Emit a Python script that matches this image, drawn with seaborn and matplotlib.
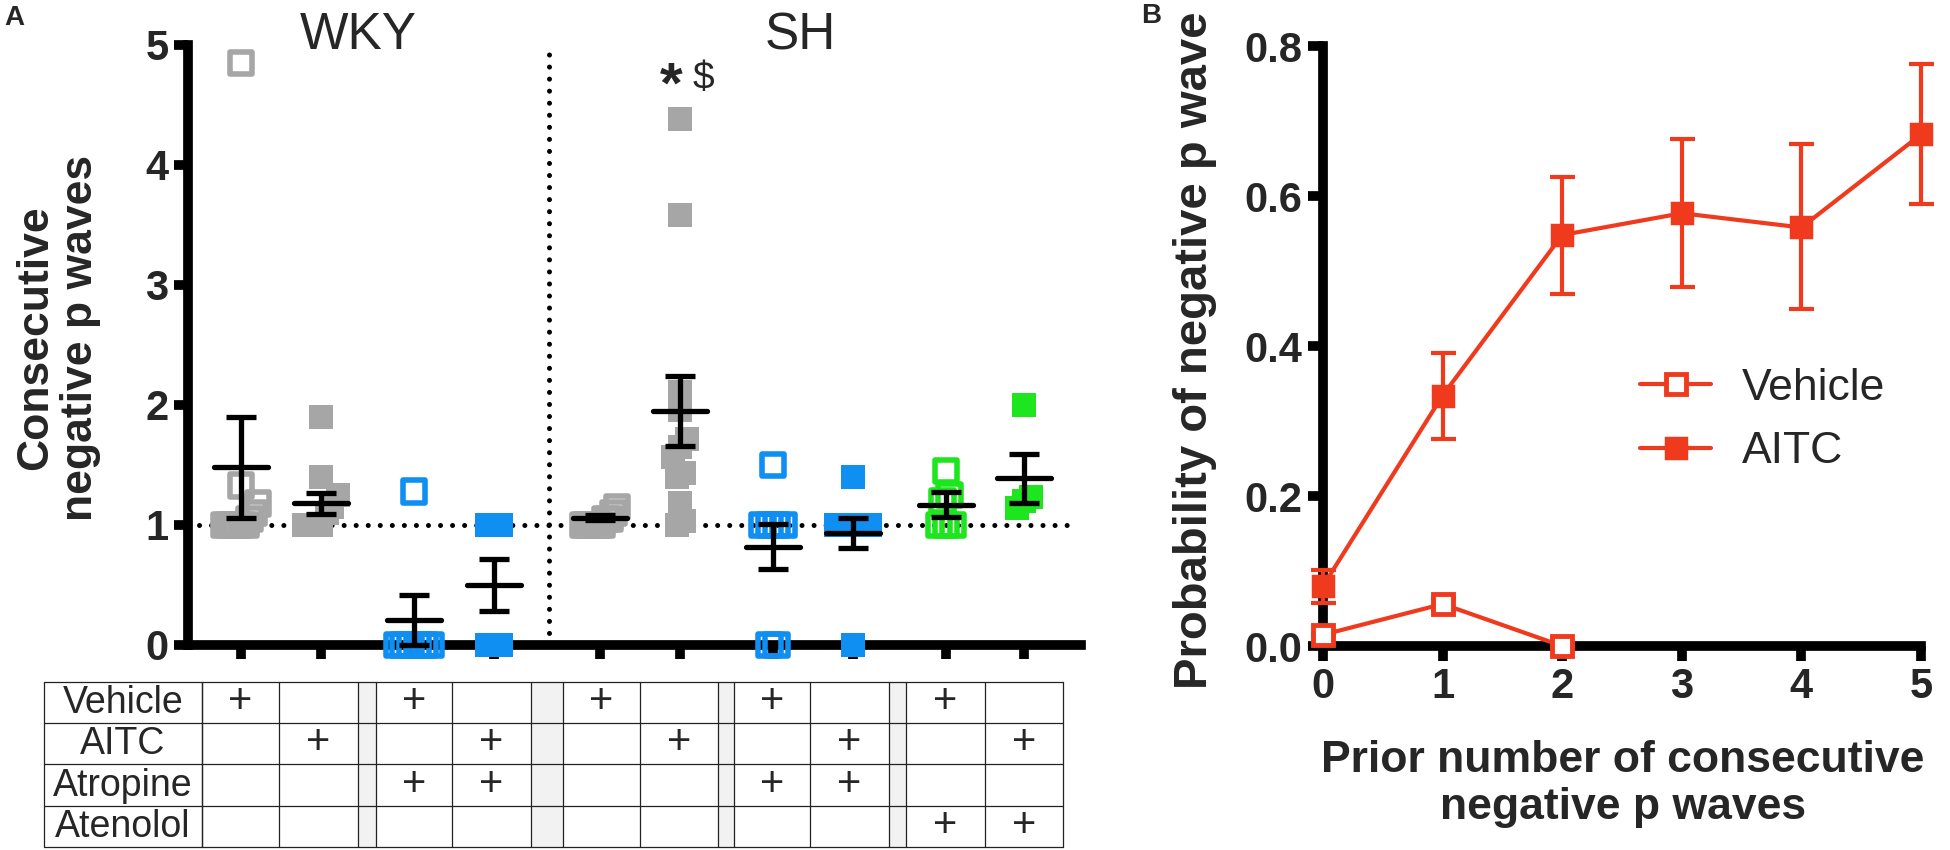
import numpy as np
import pandas as pd
import matplotlib
matplotlib.use("Agg")
import matplotlib.pyplot as plt
from matplotlib.lines import Line2D
from matplotlib.patches import Rectangle
import seaborn as sns

# ---------------- data, panel A ----------------
groups = ["WKY Vehicle", "WKY AITC", "WKY Vehicle+Atropine", "WKY AITC+Atropine",
          "SH Vehicle", "SH AITC", "SH Vehicle+Atropine", "SH AITC+Atropine",
          "SH Vehicle+Atenolol", "SH AITC+Atenolol"]
wky_vehicle = [4.85, 1.33, 1.18, 1.1, 1.05, 1.0, 1.0, 1.0, 1.0, 1.0, 1.0]
wky_aitc = [1.9, 1.4, 1.25, 1.15, 1.1, 1.0, 1.0, 1.0, 1.0]
wky_vehicle_atropine = [1.28, 0, 0, 0, 0, 0, 0]
wky_aitc_atropine = [1.0, 1.0, 1.0, 0, 0, 0]
sh_vehicle = [1.15, 1.1, 1.05, 1.05, 1.0, 1.0, 1.0, 1.0, 1.0, 1.0]
sh_aitc = [4.38, 3.58, 2.11, 1.96, 1.72, 1.65, 1.57, 1.43, 1.40, 1.18, 1.03, 1.0]
sh_vehicle_atropine = [1.5, 1.0, 1.0, 1.0, 1.0, 0, 0]
sh_aitc_atropine = [1.4, 1.0, 1.0, 1.0, 1.0, 1.0, 1.0, 0]
sh_vehicle_atenolol = [1.45, 1.25, 1.2, 1.0, 1.0, 1.0]
sh_aitc_atenolol = [2.0, 1.23, 1.14, 1.2]
means = [1.48, 1.18, 0.21, 0.50, 1.06, 1.95, 0.82, 0.93, 1.17, 1.39]
sems = [0.42, 0.09, 0.21, 0.22, 0.02, 0.29, 0.185, 0.125, 0.105, 0.205]

row_names = ["Vehicle", "AITC", "Atropine", "Atenolol"]
vehicle_on = [1, 0, 1, 0, 1, 0, 1, 0, 1, 0]
aitc_on = [0, 1, 0, 1, 0, 1, 0, 1, 0, 1]
atropine_on = [0, 0, 1, 1, 0, 0, 1, 1, 0, 0]
atenolol_on = [0, 0, 0, 0, 0, 0, 0, 0, 1, 1]

# ---------------- data, panel B ----------------
prior_n = [0, 1, 2, 3, 4, 5]
aitc_prob = [0.08, 0.334, 0.548, 0.577, 0.558, 0.682]
aitc_low = [0.058, 0.276, 0.47, 0.479, 0.449, 0.59]
aitc_high = [0.102, 0.391, 0.625, 0.676, 0.669, 0.776]
vehicle_n = [0, 1, 2]
vehicle_prob = [0.015, 0.056, 0.0]
vehicle_err = [0.0, 0.008, 0.0]

all_points = [wky_vehicle, wky_aitc, wky_vehicle_atropine, wky_aitc_atropine,
              sh_vehicle, sh_aitc, sh_vehicle_atropine, sh_aitc_atropine,
              sh_vehicle_atenolol, sh_aitc_atenolol]

# ---------------- style ----------------
sns.set_style("white")
plt.rcParams['font.family'] = ['Liberation Sans', 'DejaVu Sans']

GRAY = "#a6a6a6"
BLUE = "#0f8ff2"
GREEN = "#1ee61e"
RED = "#f03a1d"
colors = [GRAY, GRAY, BLUE, BLUE, GRAY, GRAY, BLUE, BLUE, GREEN, GREEN]
is_open = [True, False, True, False, True, False, True, False, True, False]

W, H = 1950, 850
fig = plt.figure(figsize=(W / 100, H / 100), dpi=100)

# column centres in pixels (panel A x axis is in pixel units)
col_x = [241, 321, 414, 494, 600, 680, 773, 853, 946, 1024]


def spread(vals, tol=0.12, max_width=34.0, step=7.0):
    # simple deterministic spread of overlapping points
    order = np.argsort(vals)
    offs = np.zeros(len(vals))
    clusters = []
    cur = [order[0]]
    for a, b in zip(order[:-1], order[1:]):
        if vals[b] - vals[a] <= tol:
            cur.append(b)
        else:
            clusters.append(cur)
            cur = [b]
    clusters.append(cur)
    for c in clusters:
        k = len(c)
        st = step if k < 2 else min(step, max_width / (k - 1))
        for j, idx in enumerate(c):
            offs[idx] = (j - (k - 1) / 2) * st
    return offs


rows = []
for i, vals in enumerate(all_points):
    vals = np.array(vals, dtype=float)
    offs = spread(vals)
    for v, o in zip(vals, offs):
        rows.append({"group": groups[i], "col": i, "x": col_x[i] + o, "value": v})
df = pd.DataFrame(rows)

axA = fig.add_axes([188 / W, 1 - 645 / H, (1081 - 188) / W, 600 / H])
axA.set_xlim(188, 1081)
axA.set_ylim(0, 5)

axA.axhline(1, color="black", lw=3.6, ls=(0, (0.01, 2.4)), dash_capstyle="round",
            zorder=1, xmin=0.012, xmax=0.995)
axA.plot([549, 549], [0, 4.98], color="black", lw=3.6, ls=(0, (0.01, 2.4)),
         dash_capstyle="round", zorder=1, clip_on=False)

for i in range(len(groups)):
    sub = df[df["col"] == i]
    if is_open[i]:
        sns.scatterplot(data=sub, x="x", y="value", ax=axA, marker="s", s=270,
                        facecolor="none", edgecolor=colors[i], linewidth=4,
                        zorder=3, clip_on=False, legend=False)
    else:
        sns.scatterplot(data=sub, x="x", y="value", ax=axA, marker="s", s=280,
                        color=colors[i], linewidth=0, zorder=3, clip_on=False,
                        legend=False)

for i in range(len(groups)):
    axA.hlines(means[i], col_x[i] - 27, col_x[i] + 27, color="black", lw=3.8, zorder=5,
               capstyle="round")
    axA.errorbar(col_x[i], means[i], yerr=sems[i], fmt="none", ecolor="black",
                 elinewidth=3.8, capsize=11, capthick=3.8, zorder=5, clip_on=False)

axA.set_xticks(col_x)
axA.set_xticklabels([])
axA.set_yticks([0, 1, 2, 3, 4, 5])
axA.set_yticklabels(["0", "1", "2", "3", "4", "5"], fontsize=30, fontweight="bold")
axA.tick_params(axis="both", direction="out", width=7, length=10, pad=4, color="black",
                bottom=True, left=True)
for side in ["top", "right"]:
    axA.spines[side].set_visible(False)
for side in ["left", "bottom"]:
    axA.spines[side].set_linewidth(7)
    axA.spines[side].set_color("black")
axA.set_xlabel("")
axA.set_ylabel("")

axA.text(358, (645 - 41) / 119, "WKY", fontsize=37, ha="center", va="center")
axA.text(800, (645 - 41) / 119, "SH", fontsize=37, ha="center", va="center")
axA.text(671, (645 - 92) / 119, "*", fontsize=42, fontweight="bold", ha="center", va="center")
axA.text(703, (645 - 84) / 119, "$", fontsize=28, ha="center", va="center")

fig.text(58 / W, 1 - 338 / H, "Consecutive\nnegative p waves", rotation=90,
         fontsize=32, fontweight="bold", ha="center", va="center", linespacing=1.12)
fig.text(4 / W, 1 - 18 / H, "A", fontsize=20, fontweight="bold", ha="left", va="center")

# ---------------- table under panel A ----------------
axT = fig.add_axes([44 / W, 1 - 848 / H, (1063 - 44) / W, (848 - 682) / H])
axT.set_xlim(44, 1063)
axT.set_ylim(848, 682)
axT.axis("off")
row_edges = [682, 723, 764, 806, 847]
cells = [(202, 279), (279, 358), (376, 452), (452, 531), (563, 640), (640, 718),
         (734, 810), (810, 889), (906, 985), (985, 1063)]
gaps = [(358, 376), (531, 563), (718, 734), (889, 906)]
for g0, g1 in gaps:
    axT.add_patch(Rectangle((g0, row_edges[0]), g1 - g0, row_edges[-1] - row_edges[0],
                            facecolor="#f2f2f2", edgecolor="none", zorder=0))
v_lines = [44, 202] + sorted(set([c for cc in cells for c in cc] + [g for gg in gaps for g in gg]))
for xv in v_lines:
    axT.plot([xv, xv], [row_edges[0], row_edges[-1]], color="#222222", lw=0.9,
             clip_on=False, zorder=1)
for yv in row_edges:
    axT.plot([44, 1063], [yv, yv], color="#222222", lw=0.9, clip_on=False, zorder=1)
for r, (name, flags) in enumerate(zip(row_names, [vehicle_on, aitc_on, atropine_on, atenolol_on])):
    yc = (row_edges[r] + row_edges[r + 1]) / 2
    axT.text(123, yc + 1, name, fontsize=27, ha="center", va="center")
    for c, f in enumerate(flags):
        if f:
            axT.text((cells[c][0] + cells[c][1]) / 2, yc, "+", fontsize=30,
                     ha="center", va="center")

# ---------------- panel B ----------------
axB = fig.add_axes([1323 / W, 1 - 646 / H, (1921 - 1323) / W, 600 / H])
axB.set_xlim(0, 5)
axB.set_ylim(0, 0.8)

aitc_yerr = [np.array(aitc_prob) - np.array(aitc_low), np.array(aitc_high) - np.array(aitc_prob)]
axB.errorbar(prior_n, aitc_prob, yerr=aitc_yerr, fmt="none", ecolor=RED, elinewidth=3,
             capsize=9, capthick=3, zorder=3, clip_on=False)
axB.errorbar(vehicle_n, vehicle_prob, yerr=vehicle_err, fmt="none", ecolor=RED,
             elinewidth=3, capsize=9, capthick=3, zorder=3, clip_on=False)
sns.lineplot(x=prior_n, y=aitc_prob, ax=axB, color=RED, lw=3, marker="s", ms=15,
             mfc=RED, mec=RED, mew=2.5, zorder=4, clip_on=False)
sns.lineplot(x=vehicle_n, y=vehicle_prob, ax=axB, color=RED, lw=3, marker="s", ms=14,
             mfc="white", mec=RED, mew=3.5, zorder=5, clip_on=False)

axB.set_xticks(prior_n)
axB.set_xticklabels([str(v) for v in prior_n], fontsize=30, fontweight="bold")
axB.set_yticks([0, 0.2, 0.4, 0.6, 0.8])
axB.set_yticklabels(["0.0", "0.2", "0.4", "0.6", "0.8"], fontsize=30, fontweight="bold")
axB.tick_params(axis="both", direction="out", width=7, length=11, pad=4, color="black",
                bottom=True, left=True)
for side in ["top", "right"]:
    axB.spines[side].set_visible(False)
for side in ["left", "bottom"]:
    axB.spines[side].set_linewidth(7)
    axB.spines[side].set_color("black")

fig.text(1195 / W, 1 - 689 / H, "Probability of negative p wave", rotation=90,
         fontsize=34, fontweight="bold", ha="center", va="bottom")
fig.text(1623 / W, 1 - 784 / H, "Prior number of consecutive\nnegative p waves",
         fontsize=32, fontweight="bold", ha="center", va="center", linespacing=1.2)
fig.text(1141 / W, 1 - 16 / H, "B", fontsize=20, fontweight="bold", ha="left", va="center")

handles = [Line2D([0], [0], color=RED, lw=3, marker="s", ms=14, mfc="white", mec=RED, mew=3.5),
           Line2D([0], [0], color=RED, lw=3, marker="s", ms=15, mfc=RED, mec=RED, mew=2.5)]
fig.legend(handles, ["Vehicle", "AITC"], loc="upper left",
           bbox_to_anchor=(1640 / W, 1 - 368 / H), frameon=False, fontsize=32,
           handlelength=1.6, handletextpad=0.7, labelspacing=0.5, borderpad=0,
           borderaxespad=0)

fig.savefig("out.png", dpi=100)
